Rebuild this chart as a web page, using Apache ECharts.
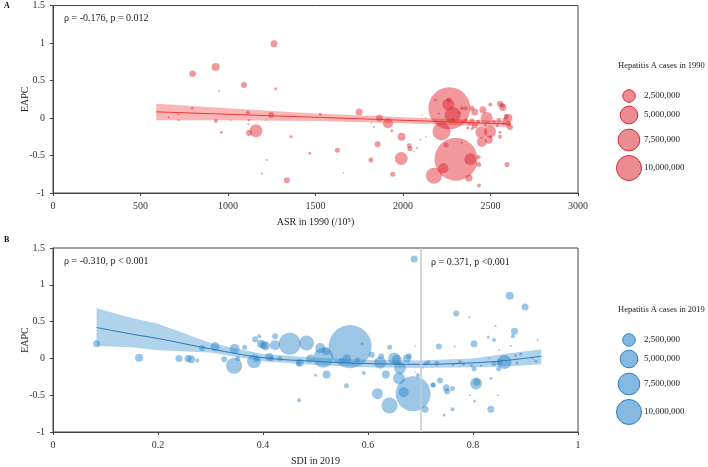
<!DOCTYPE html>
<html><head><meta charset="utf-8">
<script src="https://cdn.jsdelivr.net/npm/echarts@6/dist/echarts.min.js"></script>
<style>html,body{margin:0;padding:0;background:#fff}#c{width:708px;height:467px}</style>
</head><body><div id="c"></div>
<script>
// Panel A: [ASR in 1990, EAPC, Hepatitis A cases in 1990]
const pointsA = [
[1263,0.99,784000],[930,0.68,1024000],[798,0.59,680000],[1091,0.44,576000],[949,0.36,50000],
[1272,0.39,144000],[795,0.13,100000],[661,0.01,64000],[716,0.05,64000],[718,-0.03,64000],
[931,-0.04,256000],[1015,-0.03,36000],[1114,0.07,256000],[1120,-0.03,100000],[1116,-0.08,64000],
[1160,-0.17,2700000],[1120,-0.2,576000],[962,-0.19,144000],[1246,0.04,576000],[1215,-0.03,36000],
[1528,0.05,144000],[1360,-0.25,144000],[1625,-0.43,400000],[1467,-0.47,144000],[1221,-0.56,64000],
[1194,-0.74,64000],[1337,-0.83,576000],[1749,0.08,784000],[1865,0,784000],[1914,-0.07,1600000],
[1820,-0.07,36000],[1834,-0.12,64000],[1935,-0.17,144000],[1992,-0.25,1024000],[1855,-0.35,576000],
[2036,-0.37,400000],[2040,-0.41,400000],[2099,-0.29,64000],[2130,-0.25,36000],[2063,-0.45,36000],
[2080,-0.4,64000],[1990,-0.54,2700000],[1817,-0.56,400000],[1941,-0.75,400000],[1660,-0.73,36000],
[2177,-0.77,4100000],[2265,0.13,28200000],[2303,-0.55,29600000],[2220,-0.18,5200000],[2259,0.18,2300000],
[2284,0.04,4100000],[2262,0.24,400000],[2185,0.24,100000],[2231,-0.67,1600000],[2246,-0.36,400000],
[2385,-0.55,2300000],[2377,-0.8,784000],[2432,-0.62,400000],[2434,-0.9,256000],[2432,-0.52,256000],
[2360,-0.58,64000],[2335,-0.33,64000],[2594,-0.62,400000],[2448,-0.19,2300000],[2450,-0.32,1600000],
[2497,-0.18,2300000],[2490,-0.29,1024000],[2457,0.11,784000],[2478,0,2300000],[2410,0.08,784000],
[2393,0.13,400000],[2357,0.13,256000],[2336,0.13,256000],[2499,0.18,256000],[2554,0.19,576000],
[2570,0.14,784000],[2568,0.17,400000],[2602,0,1024000],[2600,-0.07,400000],[2611,-0.12,576000],
[2548,-0.03,400000],[2575,-0.07,256000],[2554,-0.25,256000],[2554,-0.19,144000],[2410,-0.1,576000],
[2380,-0.07,256000],[2360,-0.03,256000],[2395,-0.03,256000],[2430,-0.05,256000],[2340,-0.05,144000],
[2370,-0.13,144000],[2395,-0.14,144000],[2320,0.07,144000],[2130,0,36000],[2110,0.04,36000],
[2205,0.06,64000],[2285,-0.02,144000],[2520,-0.05,256000],[2540,-0.1,144000],[2470,-0.1,144000],
[2500,-0.25,144000],[2580,-0.02,256000],[2590,0.02,400000]
];
// Panel A linear fit and 95% CI
const fitAx = [590, 1000, 1500, 2000, 2300, 2615];
const fitAy = [0.082, 0.05, 0.01, -0.03, -0.055, -0.08];
const fitAup = [0.19, 0.13, 0.06, 0.01, -0.015, -0.04];
const fitAlo = [-0.03, -0.03, -0.04, -0.07, -0.095, -0.12];

// Panel B: [SDI in 2019, EAPC, Hepatitis A cases in 2019]
const pointsB = [
[0.083,0.2,784000],[0.164,0.01,1024000],[0.24,0,784000],[0.257,0,784000],[0.263,-0.01,1024000],
[0.275,-0.03,256000],[0.284,0.14,576000],[0.309,0.16,1300000],[0.326,-0.01,576000],[0.346,0.13,1600000],
[0.345,-0.1,4100000],[0.352,0,400000],[0.365,0.15,400000],[0.383,-0.04,3140000],[0.387,-0.01,576000],
[0.385,0.26,576000],[0.393,0.3,256000],[0.396,0.2,1024000],[0.401,0.18,1024000],[0.405,0.17,1300000],
[0.412,0.02,1024000],[0.416,0,400000],[0.423,0.3,576000],[0.423,0.18,1600000],[0.432,0,400000],
[0.451,0.2,7700000],[0.468,-0.07,400000],[0.469,-0.57,256000],[0.483,0.21,3600000],[0.566,0.16,29600000],
[0.515,0.01,6400000],[0.509,0.14,1600000],[0.52,0.1,1024000],[0.49,0,1024000],[0.47,-0.06,1024000],
[0.521,-0.22,1024000],[0.559,-0.37,400000],[0.5,-0.23,144000],[0.56,0,1024000],[0.55,-0.03,576000],
[0.58,-0.02,400000],[0.589,0.2,144000],[0.607,0.05,576000],[0.592,-0.2,256000],[0.625,0.03,576000],
[0.623,-0.06,2300000],[0.634,-0.22,1024000],[0.641,0.15,400000],[0.65,0,2300000],[0.655,-0.02,1600000],
[0.661,-0.13,2300000],[0.659,-0.27,2300000],[0.674,0,1024000],[0.678,0.03,576000],[0.618,-0.48,1940000],
[0.641,-0.64,4100000],[0.686,-0.48,19600000],[0.668,-0.46,1600000],[0.709,-0.69,784000],[0.724,-0.36,400000],
[0.735,0.16,576000],[0.715,-0.05,256000],[0.69,0.17,36000],[0.695,-0.23,256000],[0.705,-0.13,36000],
[0.69,-0.18,36000],[0.688,1.35,784000],[0.87,0.85,1024000],[0.899,0.7,784000],[0.768,0.61,576000],
[0.793,0.56,64000],[0.843,0.44,64000],[0.879,0.37,784000],[0.876,0.3,256000],[0.829,0.29,144000],
[0.84,0.25,256000],[0.802,0.2,784000],[0.765,0.16,64000],[0.872,0.17,64000],[0.923,0.25,64000],
[0.85,0.11,64000],[0.891,0.06,144000],[0.881,0.04,144000],[0.831,0,64000],[0.914,0,64000],
[0.86,-0.05,3140000],[0.851,-0.05,576000],[0.84,-0.07,400000],[0.849,-0.14,400000],[0.884,-0.06,144000],
[0.797,-0.1,144000],[0.775,-0.05,256000],[0.802,-0.14,400000],[0.782,-0.08,144000],[0.815,-0.1,64000],
[0.762,-0.08,144000],[0.731,-0.07,400000],[0.71,-0.07,256000],[0.92,-0.04,144000],[0.806,-0.34,2300000],
[0.807,-0.32,784000],[0.737,-0.3,576000],[0.724,-0.36,400000],[0.749,-0.4,784000],[0.751,-0.45,576000],
[0.761,-0.41,400000],[0.834,-0.27,144000],[0.794,-0.5,64000],[0.803,-0.58,144000],[0.848,-0.5,64000],
[0.834,-0.69,784000],[0.761,-0.69,256000],[0.745,-0.77,144000]
];
// Panel B smooth fit and 95% CI
const fitBx = [0.083, 0.15, 0.2, 0.3, 0.4, 0.5, 0.6, 0.7, 0.8, 0.86, 0.93];
const fitBy = [0.42, 0.33, 0.27, 0.13, 0.01, -0.04, -0.07, -0.08, -0.06, -0.03, 0.03];
const fitBup = [0.68, 0.55, 0.47, 0.21, 0.06, 0.01, -0.02, -0.03, 0.0, 0.06, 0.125];
const fitBlo = [0.17, 0.15, 0.11, 0.08, -0.04, -0.09, -0.12, -0.13, -0.12, -0.11, -0.08];

const legendValues = [2500000, 5000000, 7500000, 10000000];
const legendLabels = ['2,500,000', '5,000,000', '7,500,000', '10,000,000'];

const FONT = 'Liberation Serif, Times New Roman, serif';
const sizeOf = v => 12.5 * Math.sqrt(v / 2500000);

function bandSeries(xs, up, lo, gi, color) {
  return {
    type: 'custom', xAxisIndex: gi, yAxisIndex: gi, silent: true, z: 1,
    data: xs.map((x, i) => [x, up[i], lo[i]]),
    renderItem: function (params, api) {
      if (params.dataIndex !== 0) return null;
      const pts = [];
      for (let i = 0; i < xs.length; i++) pts.push(api.coord([xs[i], up[i]]));
      for (let i = xs.length - 1; i >= 0; i--) pts.push(api.coord([xs[i], lo[i]]));
      return { type: 'polygon', shape: { points: pts }, style: { fill: color } };
    }
  };
}

function axisCommon(extra) {
  return Object.assign({
    axisLine: { show: true, onZero: false, lineStyle: { color: '#444', width: 1 } },
    axisTick: { show: true, length: 3, lineStyle: { color: '#444' } },
    splitLine: { show: false },
    nameMoveOverlap: false,
    axisLabel: { color: '#333', fontSize: 10, fontFamily: FONT, formatter: v => String(v) },
    nameTextStyle: { color: '#222', fontSize: 10, fontFamily: FONT }
  }, extra);
}

function legend(top, title, fill, stroke) {
  const els = [{ type: 'text', left: 618, top: top, style: { text: title, font: '8.5px ' + FONT, fill: '#222' } }];
  const ys = [top + 35, top + 54, top + 79, top + 107];
  legendValues.forEach((v, i) => {
    els.push({ type: 'circle', shape: { cx: 629, cy: ys[i], r: sizeOf(v) / 2 }, style: { fill: fill, stroke: stroke, lineWidth: 1 } });
    els.push({ type: 'text', left: 644, top: ys[i] - 5, style: { text: legendLabels[i], font: '9px ' + FONT, fill: '#222' } });
  });
  return els;
}

const chart = echarts.init(document.getElementById('c'), null, { renderer: 'canvas' });
chart.setOption({
  animation: false,
  backgroundColor: '#fff',
  grid: [
    { left: 53, top: 5.5, width: 525, height: 187.5, show: true, borderColor: '#444', borderWidth: 1 },
    { left: 53, top: 248, width: 525, height: 188, show: true, borderColor: '#444', borderWidth: 1 }
  ],
  xAxis: [
    axisCommon({ gridIndex: 0, type: 'value', min: 0, max: 3000, interval: 500,
      name: 'ASR in 1990 (/10\u2075)', nameLocation: 'middle', nameGap: 24 }),
    axisCommon({ gridIndex: 1, type: 'value', min: 0, max: 1, interval: 0.2,
      name: 'SDI in 2019', nameLocation: 'middle', nameGap: 24 })
  ],
  yAxis: [
    axisCommon({ gridIndex: 0, type: 'value', min: -1, max: 1.5, interval: 0.5,
      name: 'EAPC', nameLocation: 'middle', nameGap: 23, nameRotate: 90 }),
    axisCommon({ gridIndex: 1, type: 'value', min: -1, max: 1.5, interval: 0.5,
      name: 'EAPC', nameLocation: 'middle', nameGap: 23, nameRotate: 90 })
  ],
  series: [
    bandSeries(fitAx, fitAup, fitAlo, 0, 'rgba(245,110,110,0.5)'),
    { type: 'scatter', xAxisIndex: 0, yAxisIndex: 0, z: 2, data: pointsA,
      symbolSize: d => sizeOf(d[2]),
      itemStyle: { color: 'rgba(222,32,42,0.58)' } },
    { type: 'line', xAxisIndex: 0, yAxisIndex: 0, z: 3, data: fitAx.map((x, i) => [x, fitAy[i]]),
      showSymbol: false, lineStyle: { color: '#e83a3a', width: 1 } },
    bandSeries(fitBx, fitBup, fitBlo, 1, 'rgba(100,165,215,0.5)'),
    { type: 'scatter', xAxisIndex: 1, yAxisIndex: 1, z: 2, data: pointsB,
      symbolSize: d => sizeOf(d[2]),
      itemStyle: { color: 'rgba(40,132,200,0.58)' },
      markLine: { silent: true, symbol: 'none', label: { show: false },
        lineStyle: { color: '#c8c8c8', width: 1.5, type: 'solid' }, data: [{ xAxis: 0.7 }] } },
    { type: 'line', xAxisIndex: 1, yAxisIndex: 1, z: 3, data: fitBx.map((x, i) => [x, fitBy[i]]),
      smooth: 0.4, showSymbol: false, lineStyle: { color: '#2a78b5', width: 1 } }
  ],
  graphic: [
    { type: 'text', left: 4, top: 2, style: { text: 'A', font: 'bold 8px ' + FONT, fill: '#111' } },
    { type: 'text', left: 4, top: 236, style: { text: 'B', font: 'bold 8px ' + FONT, fill: '#111' } },
    { type: 'text', left: 64, top: 13, style: { text: '\u03c1 = -0.176, p = 0.012', font: '10px ' + FONT, fill: '#222' } },
    { type: 'text', left: 64, top: 256, style: { text: '\u03c1 = -0.310, p < 0.001', font: '10px ' + FONT, fill: '#222' } },
    { type: 'text', left: 431, top: 257, style: { text: '\u03c1 = 0.371, p <0.001', font: '10px ' + FONT, fill: '#222' } }
  ].concat(legend(61, 'Hepatitis A cases in 1990', 'rgba(232,120,128,0.85)', '#d92a32'))
   .concat(legend(305, 'Hepatitis A cases in 2019', 'rgba(120,176,222,0.9)', '#2a7fc0'))
});
</script>
</body></html>
